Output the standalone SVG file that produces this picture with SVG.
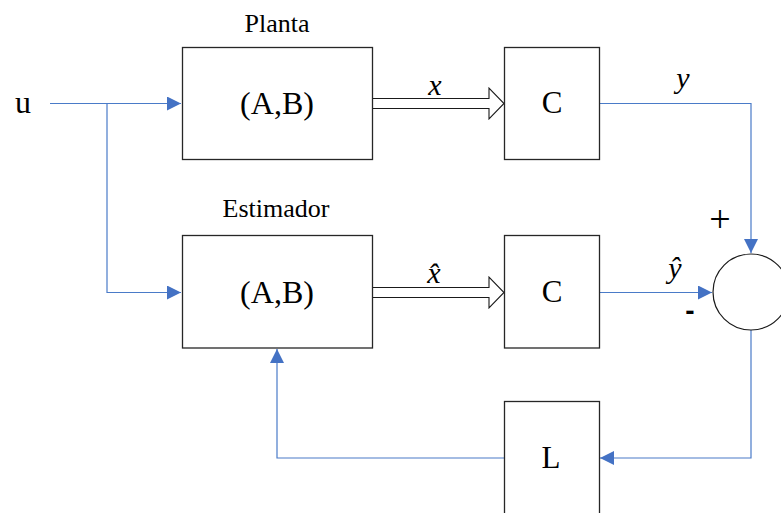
<svg xmlns="http://www.w3.org/2000/svg" width="781" height="513" viewBox="0 0 781 513">
  <style>
    .blk { fill: #ffffff; stroke: #262626; stroke-width: 1.3; }
    .wire { fill: none; stroke: #4a7bc8; stroke-width: 1.2; }
    .bus { fill: #ffffff; stroke: #1a1a1a; stroke-width: 1.1; }
    .lbl { font-family: "Liberation Serif", "Times New Roman", serif; fill: #000000; text-anchor: middle; }
    .it { font-style: italic; }
  </style>
  <defs>
    <marker id="tri" viewBox="0 0 14 14" refX="14" refY="7" markerWidth="14" markerHeight="14" markerUnits="userSpaceOnUse" orient="auto">
      <path d="M0,0 L14,7 L0,14 Z" fill="#4472c4"/>
    </marker>
  </defs>

  <rect width="781" height="513" fill="#ffffff"/>

  <!-- signal wires -->
  <g id="connectors">
    <path class="wire" d="M50,103.5 H181" marker-end="url(#tri)"/>
    <path class="wire" d="M107,103.5 V292.5 H181" marker-end="url(#tri)"/>
    <path class="wire" d="M599,103.5 H751 V253" marker-end="url(#tri)"/>
    <path class="wire" d="M599,292.5 H712" marker-end="url(#tri)"/>
    <path class="wire" d="M751,330 V458 H600" marker-end="url(#tri)"/>
    <path class="wire" d="M504,458 H277 V349" marker-end="url(#tri)"/>
    <!-- state buses (hollow arrows) -->
    <polygon class="bus" points="372,98.5 489,98.5 489,88 504,103.5 489,119 489,108.5 372,108.5"/>
    <polygon class="bus" points="372,287.5 489,287.5 489,277 504,292.5 489,308 489,297.5 372,297.5"/>
  </g>

  <g id="input">
    <text class="lbl" x="23" y="113" font-size="32">u</text>
  </g>

  <g id="planta">
    <text class="lbl" x="277" y="32" font-size="26">Planta</text>
    <rect class="blk" x="182.5" y="47.5" width="190" height="112"/>
    <text class="lbl" x="277" y="114" font-size="32">(A,B)</text>
  </g>

  <g id="c-plant">
    <rect class="blk" x="504.5" y="47.5" width="95" height="112"/>
    <text class="lbl" x="552" y="113" font-size="31">C</text>
  </g>

  <g id="estimador">
    <text class="lbl" x="276" y="217" font-size="26">Estimador</text>
    <rect class="blk" x="182.5" y="235.5" width="190" height="112.5"/>
    <text class="lbl" x="277" y="303" font-size="32">(A,B)</text>
  </g>

  <g id="c-est">
    <rect class="blk" x="504.5" y="235.5" width="95" height="112.5"/>
    <text class="lbl" x="552" y="302" font-size="31">C</text>
  </g>

  <g id="gain-l">
    <rect class="blk" x="504.5" y="401.5" width="95" height="120"/>
    <text class="lbl" x="551" y="468" font-size="31">L</text>
  </g>

  <g id="sum">
    <circle cx="751" cy="292" r="38" fill="#ffffff" stroke="#1a1a1a" stroke-width="1.2"/>
    <text class="lbl" x="720" y="232" font-size="38">+</text>
    <text x="690" y="320" font-size="28" font-weight="bold" font-family="Liberation Sans, Arial, sans-serif" text-anchor="middle">-</text>
  </g>

  <g id="signal-labels">
    <text class="lbl it" x="435" y="95" font-size="30">x</text>
    <text class="lbl it" x="434" y="283" font-size="30">x̂</text>
    <text class="lbl it" x="683" y="88" font-size="30">y</text>
    <text class="lbl it" x="675" y="278" font-size="30">ŷ</text>
  </g>
</svg>
